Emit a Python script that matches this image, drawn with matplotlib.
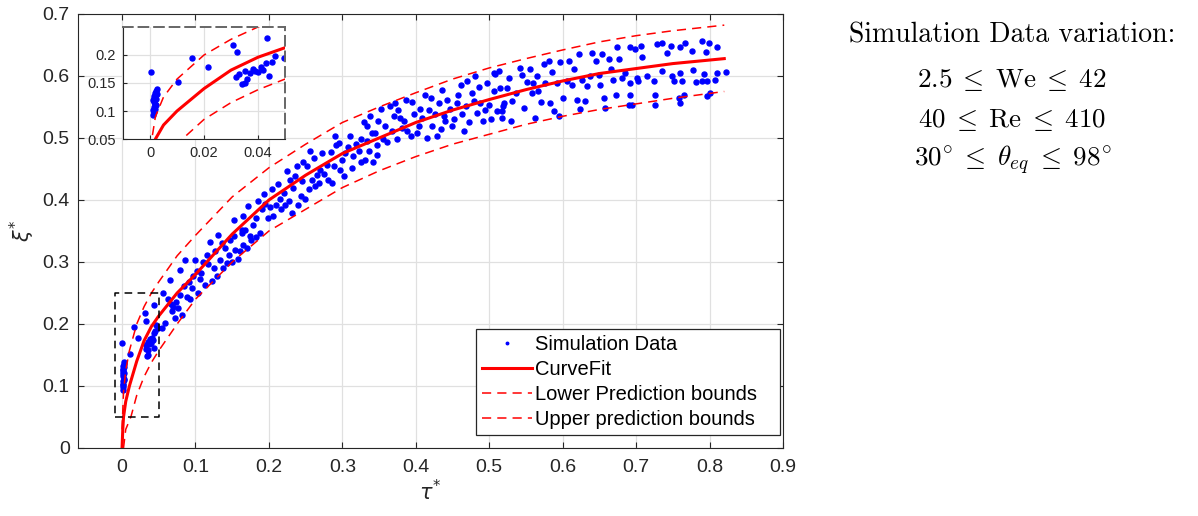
import numpy as np
import matplotlib
matplotlib.use("Agg")
import matplotlib.pyplot as plt

plt.rcParams['font.family'] = ['Liberation Sans', 'DejaVu Sans']
plt.rcParams['mathtext.fontset'] = 'cm'

# ---- data ----
tau_fit = [0, 0.001, 0.002, 0.005, 0.01, 0.02, 0.03, 0.04, 0.05, 0.075, 0.1, 0.15, 0.2,
           0.25, 0.3, 0.35, 0.4, 0.45, 0.5, 0.55, 0.6, 0.65, 0.7, 0.75, 0.82]
xi_fit = [0, 0.03, 0.05, 0.075, 0.1, 0.14, 0.173, 0.196, 0.213, 0.25, 0.28, 0.345, 0.40,
          0.44, 0.475, 0.50, 0.525, 0.545, 0.562, 0.578, 0.592, 0.604, 0.612, 0.62, 0.628]

tau_lo = [0.002, 0.005, 0.012, 0.02, 0.03, 0.04, 0.05, 0.075, 0.1, 0.15, 0.2, 0.25, 0.3,
          0.35, 0.4, 0.45, 0.5, 0.55, 0.6, 0.65, 0.7, 0.75, 0.82]
xi_lo = [0.0, 0.03, 0.05, 0.085, 0.115, 0.138, 0.157, 0.2, 0.24, 0.30, 0.35, 0.385, 0.42,
         0.447, 0.47, 0.49, 0.506, 0.522, 0.535, 0.546, 0.555, 0.564, 0.575]

tau_up = [0, 0.002, 0.005, 0.01, 0.02, 0.03, 0.04, 0.05, 0.075, 0.1, 0.15, 0.2, 0.25, 0.3,
          0.35, 0.4, 0.45, 0.5, 0.55, 0.6, 0.65, 0.7, 0.75, 0.82]
xi_up = [0.03, 0.09, 0.125, 0.157, 0.2, 0.228, 0.25, 0.268, 0.31, 0.343, 0.405, 0.452, 0.49,
         0.525, 0.55, 0.573, 0.595, 0.613, 0.628, 0.642, 0.655, 0.665, 0.673, 0.682]

sim_points = [
    # near tau = 0
    (0.0002, 0.170), (0.0012, 0.093), (0.0015, 0.098), (0.0018, 0.103), (0.0013, 0.108),
    (0.0020, 0.112), (0.0016, 0.116), (0.0011, 0.119), (0.0022, 0.121), (0.0019, 0.125),
    (0.0014, 0.127), (0.0024, 0.130), (0.0017, 0.133), (0.0021, 0.136), (0.0026, 0.139),
    (0.0010, 0.101), (0.0023, 0.110), (0.0016, 0.123),
    (0.0105, 0.151), (0.0157, 0.195), (0.0216, 0.178), (0.0309, 0.218), (0.0321, 0.205),
    (0.032, 0.160), (0.033, 0.166), (0.034, 0.149), (0.035, 0.150), (0.035, 0.171),
    (0.036, 0.158), (0.037, 0.168), (0.038, 0.175), (0.039, 0.172), (0.040, 0.169),
    (0.041, 0.178), (0.042, 0.174), (0.0432, 0.231), (0.043, 0.185), (0.0463, 0.198),
    (0.0496, 0.194), (0.045, 0.188), (0.044, 0.162),
    # tau 0.05 - 0.18
    (0.056, 0.250), (0.054, 0.193), (0.058, 0.201), (0.065, 0.271), (0.068, 0.221),
    (0.070, 0.228), (0.072, 0.210), (0.074, 0.236), (0.079, 0.287), (0.079, 0.247),
    (0.081, 0.215), (0.088, 0.244), (0.086, 0.304), (0.095, 0.258), (0.097, 0.277),
    (0.099, 0.304), (0.102, 0.285), (0.104, 0.250), (0.108, 0.282), (0.113, 0.263),
    (0.117, 0.296), (0.120, 0.333), (0.129, 0.277), (0.131, 0.344), (0.134, 0.304),
    (0.140, 0.323), (0.145, 0.312), (0.147, 0.336), (0.154, 0.320), (0.163, 0.347),
    (0.165, 0.328), (0.170, 0.323), (0.183, 0.341), (0.062, 0.240), (0.091, 0.268),
    (0.110, 0.300), (0.125, 0.290), (0.138, 0.290), (0.150, 0.300), (0.158, 0.305),
    (0.066, 0.232), (0.076, 0.225), (0.084, 0.262), (0.093, 0.240), (0.106, 0.272),
    (0.115, 0.312), (0.122, 0.270), (0.127, 0.318), (0.136, 0.330), (0.143, 0.298),
    (0.152, 0.342), (0.160, 0.318), (0.168, 0.352), (0.176, 0.335),
    # tau 0.15 - 0.35
    (0.152, 0.368), (0.165, 0.374), (0.172, 0.390), (0.163, 0.352), (0.174, 0.342),
    (0.183, 0.371), (0.188, 0.347), (0.193, 0.409), (0.195, 0.393), (0.199, 0.371),
    (0.204, 0.417), (0.206, 0.374), (0.215, 0.401), (0.217, 0.385), (0.220, 0.411),
    (0.224, 0.446), (0.227, 0.398), (0.231, 0.379), (0.236, 0.438), (0.238, 0.455),
    (0.243, 0.406), (0.245, 0.430), (0.249, 0.401), (0.256, 0.479), (0.258, 0.433),
    (0.263, 0.422), (0.270, 0.449), (0.272, 0.476), (0.279, 0.457), (0.281, 0.433),
    (0.286, 0.428), (0.290, 0.503), (0.292, 0.489), (0.297, 0.449), (0.304, 0.476),
    (0.311, 0.503), (0.315, 0.471), (0.322, 0.479), (0.331, 0.465), (0.336, 0.479),
    (0.347, 0.489), (0.347, 0.473), (0.178, 0.360), (0.190, 0.385), (0.210, 0.392),
    (0.233, 0.420), (0.252, 0.455), (0.265, 0.440), (0.300, 0.465), (0.318, 0.490),
    (0.185, 0.398), (0.201, 0.388), (0.212, 0.425), (0.222, 0.392), (0.229, 0.432),
    (0.240, 0.392), (0.247, 0.462), (0.254, 0.418), (0.261, 0.468), (0.268, 0.428),
    (0.275, 0.442), (0.284, 0.478), (0.288, 0.455), (0.295, 0.492), (0.302, 0.438),
    (0.308, 0.485), (0.313, 0.452), (0.325, 0.462), (0.334, 0.495), (0.342, 0.462),
    # tau 0.33 - 0.53
    (0.329, 0.525), (0.333, 0.519), (0.338, 0.535), (0.326, 0.498), (0.340, 0.508),
    (0.345, 0.508), (0.352, 0.546), (0.356, 0.498), (0.361, 0.493), (0.365, 0.551),
    (0.370, 0.535), (0.374, 0.498), (0.372, 0.557), (0.379, 0.532), (0.381, 0.516),
    (0.386, 0.562), (0.388, 0.511), (0.393, 0.503), (0.397, 0.538), (0.404, 0.519),
    (0.406, 0.546), (0.413, 0.570), (0.415, 0.500), (0.420, 0.565), (0.422, 0.519),
    (0.429, 0.503), (0.431, 0.557), (0.436, 0.578), (0.438, 0.535), (0.440, 0.527),
    (0.447, 0.546), (0.449, 0.519), (0.456, 0.557), (0.461, 0.586), (0.463, 0.538),
    (0.465, 0.511), (0.470, 0.592), (0.476, 0.573), (0.481, 0.600), (0.483, 0.541),
    (0.488, 0.557), (0.492, 0.527), (0.497, 0.589), (0.499, 0.554), (0.506, 0.576),
    (0.508, 0.603), (0.513, 0.608), (0.517, 0.544), (0.520, 0.557), (0.524, 0.581),
    (0.349, 0.528), (0.358, 0.520), (0.367, 0.512), (0.376, 0.545), (0.384, 0.528),
    (0.395, 0.558), (0.401, 0.508), (0.409, 0.532), (0.418, 0.545), (0.426, 0.538),
    (0.434, 0.515), (0.443, 0.562), (0.452, 0.530), (0.458, 0.570), (0.468, 0.552),
    (0.473, 0.525), (0.479, 0.560), (0.486, 0.582), (0.494, 0.545), (0.502, 0.530),
    # tau 0.50 - 0.70
    (0.506, 0.605), (0.510, 0.543), (0.515, 0.581), (0.519, 0.551), (0.517, 0.533),
    (0.529, 0.527), (0.531, 0.560), (0.542, 0.613), (0.544, 0.602), (0.547, 0.549),
    (0.556, 0.611), (0.558, 0.573), (0.560, 0.589), (0.562, 0.533), (0.567, 0.576),
    (0.574, 0.619), (0.576, 0.589), (0.581, 0.624), (0.583, 0.557), (0.588, 0.543),
    (0.592, 0.589), (0.595, 0.535), (0.597, 0.622), (0.606, 0.592), (0.608, 0.624),
    (0.613, 0.586), (0.619, 0.562), (0.622, 0.635), (0.626, 0.594), (0.624, 0.546),
    (0.633, 0.584), (0.640, 0.637), (0.645, 0.624), (0.649, 0.602), (0.654, 0.635),
    (0.656, 0.565), (0.658, 0.549), (0.663, 0.627), (0.669, 0.594), (0.674, 0.646),
    (0.676, 0.627), (0.681, 0.597), (0.685, 0.605), (0.690, 0.554), (0.703, 0.592),
    (0.527, 0.596), (0.537, 0.572), (0.551, 0.590), (0.565, 0.600), (0.571, 0.558),
    (0.586, 0.606), (0.601, 0.565), (0.616, 0.612), (0.630, 0.560), (0.637, 0.600),
    (0.651, 0.585), (0.666, 0.612), (0.672, 0.570),
    # tau 0.69 - 0.82
    (0.692, 0.646), (0.699, 0.643), (0.706, 0.648), (0.708, 0.631), (0.692, 0.589),
    (0.701, 0.597), (0.715, 0.600), (0.724, 0.592), (0.726, 0.570), (0.692, 0.570),
    (0.694, 0.554), (0.726, 0.554), (0.728, 0.651), (0.735, 0.653), (0.742, 0.637),
    (0.747, 0.648), (0.735, 0.608), (0.749, 0.600), (0.751, 0.592), (0.760, 0.605),
    (0.762, 0.592), (0.758, 0.565), (0.760, 0.557), (0.765, 0.570), (0.760, 0.646),
    (0.767, 0.653), (0.776, 0.640), (0.778, 0.610), (0.781, 0.591), (0.790, 0.656),
    (0.795, 0.638), (0.792, 0.603), (0.790, 0.592), (0.799, 0.653), (0.797, 0.592),
    (0.797, 0.568), (0.801, 0.573), (0.808, 0.594), (0.810, 0.646), (0.810, 0.605),
    (0.823, 0.606),
]
tau_sim = [p[0] for p in sim_points]
xi_sim = [p[1] for p in sim_points]

xticks = [0, 0.1, 0.2, 0.3, 0.4, 0.5, 0.6, 0.7, 0.8, 0.9]
xtick_labels = ['0', '0.1', '0.2', '0.3', '0.4', '0.5', '0.6', '0.7', '0.8', '0.9']
yticks = [0, 0.1, 0.2, 0.3, 0.4, 0.5, 0.6, 0.7]
ytick_labels = ['0', '0.1', '0.2', '0.3', '0.4', '0.5', '0.6', '0.7']
inset_xticks = [0, 0.02, 0.04]
inset_xtick_labels = ['0', '0.02', '0.04']
inset_yticks = [0.05, 0.1, 0.15, 0.2]
inset_ytick_labels = ['0.05', '0.1', '0.15', '0.2']

info_title = 'Simulation Data variation:'
info_lines = [r'$2.5\;\leq\;\mathrm{We}\;\leq\;42$',
              r'$40\;\leq\;\mathrm{Re}\;\leq\;410$',
              r'$30^{\circ}\;\leq\;\theta_{eq}\;\leq\;98^{\circ}$']

dark = (0.15, 0.15, 0.15)
grid_col = (0.88, 0.88, 0.88)


def style_axes(ax, size):
    ax.grid(True, color=grid_col, linewidth=0.9)
    ax.set_axisbelow(True)
    ax.tick_params(direction='in', colors=dark, labelsize=size, length=4)
    for s in ax.spines.values():
        s.set_color(dark)
        s.set_linewidth(0.8)


def draw_curves(ax):
    ax.plot(tau_sim, xi_sim, 'o', color='blue', ms=3.6, mec='blue', label='Simulation Data')
    ax.plot(tau_fit, xi_fit, '-', color='red', lw=2.2, label='CurveFit')
    ax.plot(tau_lo, xi_lo, '--', color='red', lw=1.1, dashes=(6, 4), label='Lower Prediction bounds   ')
    ax.plot(tau_up, xi_up, '--', color='red', lw=1.1, dashes=(6, 4), label='Upper prediction bounds')


fig = plt.figure(figsize=(11.98, 5.16), dpi=100)
ax = fig.add_axes([0.0651, 0.1318, 0.5885, 0.8411])
draw_curves(ax)
ax.set_xlim(-0.06, 0.9)
ax.set_ylim(0, 0.7)
ax.set_xticks(xticks)
ax.set_xticklabels(xtick_labels)
ax.set_yticks(yticks)
ax.set_yticklabels(ytick_labels)
style_axes(ax, 14)
ax.tick_params(top=True, right=True)
ax.tick_params(axis='x', pad=8)
ax.tick_params(axis='y', pad=6)
ax.set_xlabel(r'$\tau^{*}$', fontsize=15, color=dark, math_fontfamily='dejavusans', labelpad=2)
ax.set_ylabel(r'$\xi^{*}$', fontsize=15, color=dark, math_fontfamily='dejavusans', labelpad=4)

# zoom box
ax.plot([-0.01, 0.05, 0.05, -0.01, -0.01], [0.05, 0.05, 0.25, 0.25, 0.05], '--',
        color='black', lw=1.1, dashes=(5, 3.5), zorder=4)

leg = ax.legend(loc='lower right', bbox_to_anchor=(0.996, 0.03), fontsize=14.5, frameon=True,
                fancybox=False, edgecolor=dark, framealpha=1, handlelength=2.5,
                handletextpad=0.15, labelspacing=0.3, borderpad=0.3, borderaxespad=0,
                markerscale=0.5)
leg.get_frame().set_linewidth(0.9)

# inset
axi = fig.add_axes([0.1027, 0.7306, 0.1352, 0.2171])
draw_curves(axi)
axi.set_xlim(-0.01, 0.05)
axi.set_ylim(0.05, 0.25)
axi.set_xticks(inset_xticks)
axi.set_xticklabels(inset_xtick_labels)
axi.set_yticks(inset_yticks)
axi.set_yticklabels(inset_ytick_labels)
style_axes(axi, 10.5)
axi.tick_params(length=3, pad=5)
for side in ['top', 'right']:
    axi.spines[side].set_linestyle((0, (5, 3)))
    axi.spines[side].set_color((0.4, 0.4, 0.4))
    axi.spines[side].set_linewidth(1.4)

# info text on the right
fig.text(0.845, 0.932, info_title, ha='center', va='center', fontsize=20, family='cmr10')
ys = [0.845, 0.768, 0.690]
for y, s in zip(ys, info_lines):
    fig.text(0.845, y, s, ha='center', va='center', fontsize=19.5, math_fontfamily='cm')

fig.savefig('out.png', dpi=100)
